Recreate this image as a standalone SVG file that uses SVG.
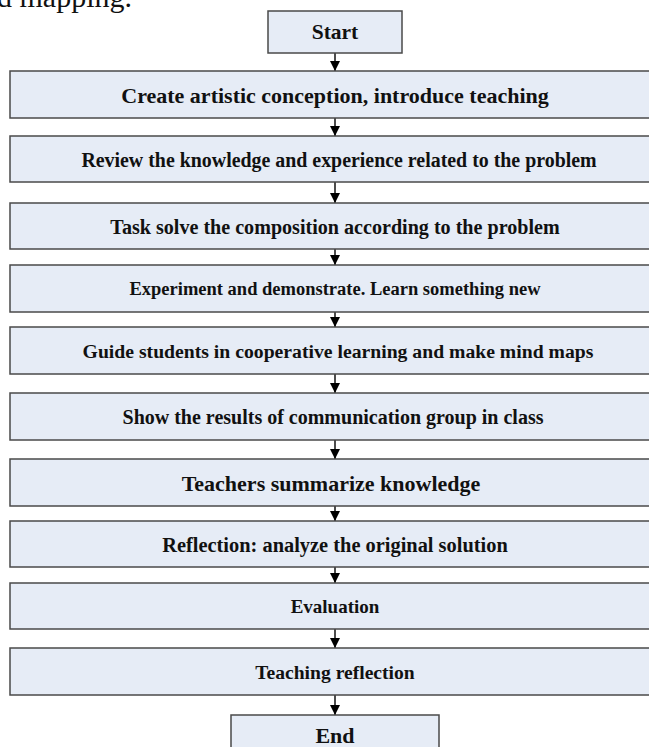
<svg xmlns="http://www.w3.org/2000/svg" width="649" height="747" viewBox="0 0 649 747">
  <style>
    .box { fill: #e6ecf6; stroke: #4a4a4a; stroke-width: 1.5; }
    .lbl { font-family: "Liberation Serif", "Times New Roman", serif; font-weight: bold; fill: #111; text-anchor: middle; dominant-baseline: central; }
    .cap { font-family: "Liberation Serif", "Times New Roman", serif; font-size: 30px; fill: #111; }
    .flow { stroke: #000; stroke-width: 1.4; fill: none; marker-end: url(#tip); }
  </style>
  <defs>
    <marker id="tip" viewBox="0 0 10 10" refX="10" refY="5" markerWidth="10" markerHeight="11" markerUnits="userSpaceOnUse" orient="auto">
      <path d="M0,0 L10,5 L0,10 Z" fill="#000"/>
    </marker>
  </defs>

  <rect width="649" height="747" fill="#fff"/>

  <!-- tail of the preceding paragraph -->
  <text class="cap" x="-3" y="7">d mapping.</text>

  <g id="connectors">
    <line class="flow" x1="335" y1="53" x2="335" y2="71"/>
    <line class="flow" x1="335" y1="118" x2="335" y2="136"/>
    <line class="flow" x1="335" y1="182" x2="335" y2="203"/>
    <line class="flow" x1="335" y1="249" x2="335" y2="265"/>
    <line class="flow" x1="335" y1="312" x2="335" y2="327"/>
    <line class="flow" x1="335" y1="374" x2="335" y2="393"/>
    <line class="flow" x1="335" y1="440" x2="335" y2="459"/>
    <line class="flow" x1="335" y1="506" x2="335" y2="521"/>
    <line class="flow" x1="335" y1="567" x2="335" y2="583"/>
    <line class="flow" x1="335" y1="629" x2="335" y2="648"/>
    <line class="flow" x1="335" y1="695" x2="335" y2="715"/>
  </g>

  <g id="start">
    <rect class="box" x="268" y="11" width="134" height="42"/>
    <text class="lbl" x="335" y="32" font-size="21.5">Start</text>
  </g>
  <g id="step1">
    <rect class="box" x="10" y="71" width="650" height="47"/>
    <text class="lbl" x="335" y="95" font-size="22">Create artistic conception, introduce teaching</text>
  </g>
  <g id="step2">
    <rect class="box" x="10" y="136" width="650" height="46"/>
    <text class="lbl" x="339" y="159.5" font-size="19.9">Review the knowledge and experience related to the problem</text>
  </g>
  <g id="step3">
    <rect class="box" x="10" y="203" width="650" height="46"/>
    <text class="lbl" x="335" y="226.5" font-size="20.1">Task solve the composition according to the problem</text>
  </g>
  <g id="step4">
    <rect class="box" x="10" y="265" width="650" height="47"/>
    <text class="lbl" x="335" y="289" font-size="18.5">Experiment and demonstrate. Learn something new</text>
  </g>
  <g id="step5">
    <rect class="box" x="10" y="327" width="650" height="47"/>
    <text class="lbl" x="338" y="351" font-size="19.7">Guide students in cooperative learning and make mind maps</text>
  </g>
  <g id="step6">
    <rect class="box" x="10" y="393" width="650" height="47"/>
    <text class="lbl" x="333" y="417" font-size="20">Show the results of communication group in class</text>
  </g>
  <g id="step7">
    <rect class="box" x="10" y="459" width="650" height="47"/>
    <text class="lbl" x="331" y="483" font-size="22">Teachers summarize knowledge</text>
  </g>
  <g id="step8">
    <rect class="box" x="10" y="521" width="650" height="46"/>
    <text class="lbl" x="335" y="544.5" font-size="20.4">Reflection: analyze the original solution</text>
  </g>
  <g id="step9">
    <rect class="box" x="10" y="583" width="650" height="46"/>
    <text class="lbl" x="335" y="606.5" font-size="19">Evaluation</text>
  </g>
  <g id="step10">
    <rect class="box" x="10" y="648" width="650" height="47"/>
    <text class="lbl" x="335" y="672" font-size="19.6">Teaching reflection</text>
  </g>
  <g id="end">
    <rect class="box" x="231" y="715" width="208" height="40"/>
    <text class="lbl" x="335" y="735" font-size="22">End</text>
  </g>
</svg>
